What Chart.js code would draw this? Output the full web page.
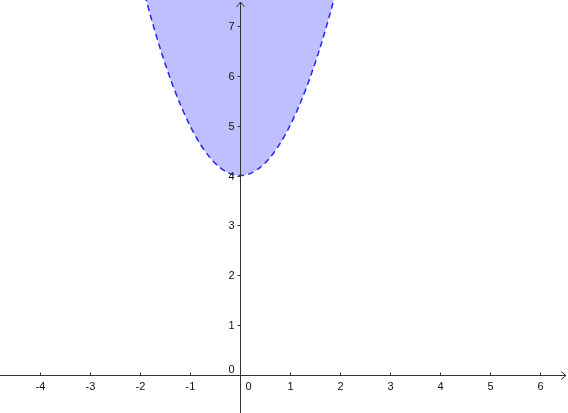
<!DOCTYPE html>
<html>
<head>
<meta charset="utf-8">
<script src="https://cdn.jsdelivr.net/npm/chart.js@4/dist/chart.umd.min.js"></script>
<style>
  html, body { margin: 0; padding: 0; background: #fff; }
  #wrap { width: 568px; height: 413px; }
</style>
</head>
<body>
<div id="wrap"><canvas id="plot"></canvas></div>
<script>
// boundary y = x^2 + 4 (dashed, region above shaded)
const curveX = [-2.0, -1.8, -1.6, -1.4, -1.2, -1.0, -0.8, -0.6, -0.4, -0.2, 0, 0.2, 0.4, 0.6, 0.8, 1.0, 1.2, 1.4, 1.6, 1.8, 2.0];
const curveY = [8.0, 7.24, 6.56, 5.96, 5.44, 5.0, 4.64, 4.36, 4.16, 4.04, 4.0, 4.04, 4.16, 4.36, 4.64, 5.0, 5.44, 5.96, 6.56, 7.24, 8.0];

const xTicks = [-4, -3, -2, -1, 0, 1, 2, 3, 4, 5, 6];
const yTicks = [0, 1, 2, 3, 4, 5, 6, 7];

const xRange = [-4.8, 6.56];
const yRange = [-0.76, 7.52];

const points = curveX.map((x, i) => ({ x: x, y: curveY[i] }));

// draws the cross axes with arrows, ticks and labels at zero
const axesPlugin = {
    id: 'crossAxes',
    afterDatasetsDraw(chart) {
        const ctx = chart.ctx;
        const xs = chart.scales.x;
        const ys = chart.scales.y;
        const area = chart.chartArea;
        const ox = Math.round(xs.getPixelForValue(0)) + 0.5;
        const oy = Math.round(ys.getPixelForValue(0)) + 0.5;

        ctx.save();
        ctx.strokeStyle = '#333';
        ctx.lineWidth = 1;

        // x axis
        ctx.beginPath();
        ctx.moveTo(area.left, oy);
        ctx.lineTo(area.right - 2, oy);
        ctx.stroke();
        ctx.beginPath();
        ctx.moveTo(area.right - 7, oy - 4);
        ctx.lineTo(area.right - 2, oy);
        ctx.lineTo(area.right - 7, oy + 4);
        ctx.stroke();

        // y axis
        ctx.beginPath();
        ctx.moveTo(ox, area.bottom);
        ctx.lineTo(ox, area.top + 2);
        ctx.stroke();
        ctx.beginPath();
        ctx.moveTo(ox - 4, area.top + 7);
        ctx.lineTo(ox, area.top + 2);
        ctx.lineTo(ox + 4, area.top + 7);
        ctx.stroke();

        ctx.font = '11px "Liberation Sans", Arial, sans-serif';
        ctx.fillStyle = '#111';

        // x ticks
        ctx.textAlign = 'center';
        ctx.textBaseline = 'middle';
        xTicks.forEach(v => {
            const px = Math.round(xs.getPixelForValue(v)) + 0.5;
            if (v !== 0) {
                ctx.beginPath();
                ctx.moveTo(px, oy);
                ctx.lineTo(px, oy - 3);
                ctx.stroke();
                ctx.fillText(String(v), px, oy + 11);
            } else {
                ctx.fillText('0', px + 8, oy + 11);
            }
        });

        // y ticks
        ctx.textAlign = 'right';
        yTicks.forEach(v => {
            const py = Math.round(ys.getPixelForValue(v)) + 0.5;
            if (v !== 0) {
                ctx.beginPath();
                ctx.moveTo(ox, py);
                ctx.lineTo(ox - 3, py);
                ctx.stroke();
                ctx.fillText(String(v), ox - 6, py);
            } else {
                ctx.fillText('0', ox - 6, py - 6);
            }
        });

        ctx.restore();
    }
};

new Chart(document.getElementById('plot'), {
    type: 'line',
    data: {
        datasets: [{
            data: points,
            borderColor: 'rgb(40, 40, 235)',
            borderWidth: 1.5,
            borderDash: [6, 4],
            backgroundColor: 'rgba(0, 0, 255, 0.25)',
            fill: 'end',
            pointRadius: 0,
            tension: 0.3
        }]
    },
    options: {
        responsive: true,
        maintainAspectRatio: false,
        animation: false,
        layout: { padding: 0 },
        plugins: {
            legend: { display: false },
            tooltip: { enabled: false }
        },
        scales: {
            x: { type: 'linear', min: xRange[0], max: xRange[1], display: false },
            y: { type: 'linear', min: yRange[0], max: yRange[1], display: false }
        }
    },
    plugins: [axesPlugin]
});
</script>
</body>
</html>
